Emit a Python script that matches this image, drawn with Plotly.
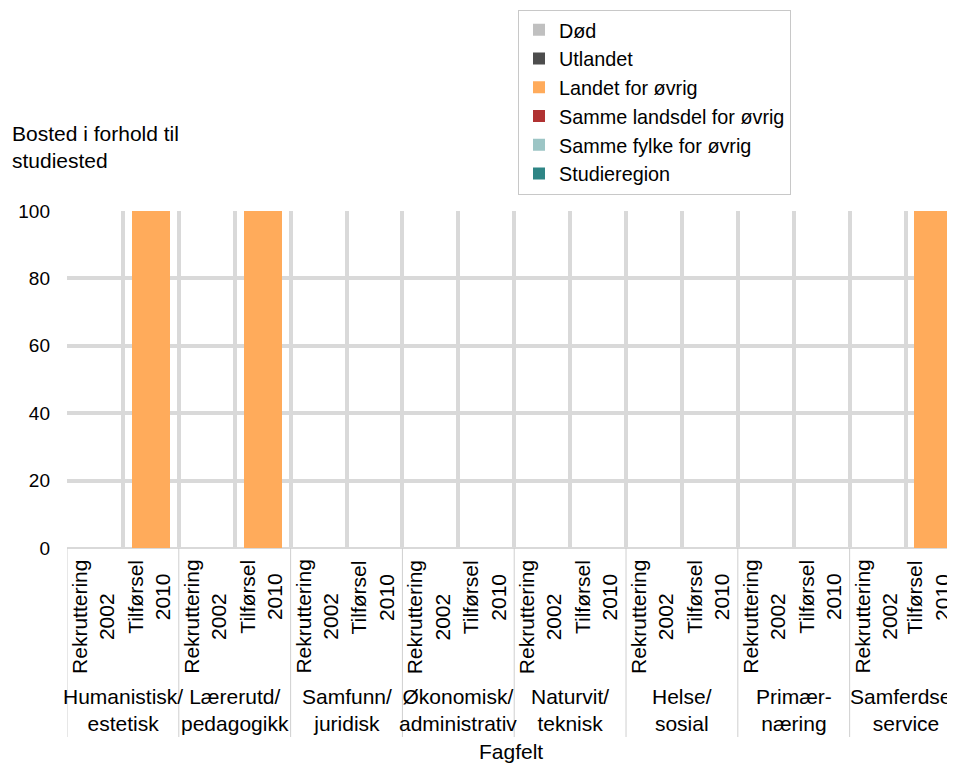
import plotly.graph_objects as go

groups = ["Humanistisk/<br>estetisk", "Lærerutd/<br>pedagogikk", "Samfunn/<br>juridisk",
          "Økonomisk/<br>administrativ", "Naturvit/<br>teknisk", "Helse/<br>sosial",
          "Primær-<br>næring", "Samferdsel/<br>service"]
subcats = ["Rekruttering<br>2002", "Tilførsel<br>2010"]

series_names = ["Studieregion", "Samme fylke for øvrig", "Samme landsdel for øvrig",
                "Landet for øvrig", "Utlandet", "Død"]
series_colors = ["#2e8585", "#9cc5c5", "#b03232", "#ffab5b", "#4d4d4d", "#c0c0c0"]

# values in order: for each group -> Rekruttering 2002, Tilførsel 2010
studieregion   = [0, 0, 0, 0, 0, 0, 0, 0, 0, 0, 0, 0, 0, 0, 0, 0]
samme_fylke    = [0, 0, 0, 0, 0, 0, 0, 0, 0, 0, 0, 0, 0, 0, 0, 0]
samme_landsdel = [0, 0, 0, 0, 0, 0, 0, 0, 0, 0, 0, 0, 0, 0, 0, 0]
landet         = [0, 100, 0, 100, 0, 0, 0, 0, 0, 0, 0, 0, 0, 0, 0, 100]
utlandet       = [0, 0, 0, 0, 0, 0, 0, 0, 0, 0, 0, 0, 0, 0, 0, 0]
dod            = [0, 0, 0, 0, 0, 0, 0, 0, 0, 0, 0, 0, 0, 0, 0, 0]

series_values = [studieregion, samme_fylke, samme_landsdel, landet, utlandet, dod]

y_ticks = [0, 20, 40, 60, 80, 100]

# unique category keys for each bar (group + sub-category)
x_keys = [f"{gi}|{si}" for gi in range(len(groups)) for si in range(len(subcats))]

FONT = "Liberation Sans, Arial, sans-serif"
PLOT_H = 337.0

fig = go.Figure()
for name, color, vals in zip(series_names, series_colors, series_values):
    fig.add_trace(go.Bar(x=x_keys, y=vals, name=name,
                         marker=dict(color=color, line=dict(width=0))))

annotations = []
# inner (rotated) category labels
last_key = x_keys[-1]
for gi in range(len(groups)):
    for si, sub in enumerate(subcats):
        key = f"{gi}|{si}"
        annotations.append(dict(
            text=sub, xref="x", yref="paper", x=key, y=-10 / PLOT_H,
            xanchor="center", yanchor="top", textangle=-90, align="center",
            xshift=-5 if key == last_key else -2, showarrow=False,
            font=dict(size=21)))
# outer group labels
for gi, g in enumerate(groups):
    annotations.append(dict(
        text=g, xref="x", yref="paper", x=gi * len(subcats) + (len(subcats) - 1) / 2,
        y=-162 / PLOT_H, xanchor="center", yanchor="middle", align="center",
        showarrow=False, font=dict(size=21)))

annotations += [
    dict(text="Bosted i forhold til<br>studiested", xref="paper", yref="paper",
         x=-57 / 888, y=1.19, xanchor="left", yanchor="middle", align="left",
         showarrow=False, font=dict(size=21)),
    dict(text="Fagfelt", xref="paper", yref="paper", x=0.5, y=-203 / PLOT_H,
         xanchor="center", yanchor="middle", showarrow=False, font=dict(size=21)),
]

# group dividers below the axis
shapes = []
for gi in range(len(groups) + 1):
    xb = gi * len(subcats) - 0.5
    shapes.append(dict(type="line", xref="x", yref="paper", x0=xb, x1=xb,
                       y0=0, y1=-189 / PLOT_H, line=dict(color="#cfcfcf", width=1)))

fig.update_layout(
    width=947, height=759,
    barmode="stack", bargap=0.32,
    plot_bgcolor="white", paper_bgcolor="white",
    margin=dict(l=59, r=0, t=203, b=219),
    font=dict(family=FONT, size=21, color="#000000"),
    legend=dict(x=(518 - 67) / 888, y=1 + 201.5 / PLOT_H, xanchor="left",
                yanchor="top", traceorder="reversed", bordercolor="#c8c8c8",
                borderwidth=1, font=dict(size=19.8)),
    xaxis=dict(type="category", range=[-0.5, 15.385], tickson="boundaries",
               showgrid=True, gridcolor="#d9d9d9", gridwidth=4,
               showticklabels=False, ticks="", showline=False),
    yaxis=dict(range=[0, 100], tickvals=y_ticks, showgrid=True, gridcolor="#d9d9d9",
               gridwidth=4, zeroline=True, zerolinecolor="#d9d9d9", zerolinewidth=2,
               ticks="", ticklabelstandoff=16, tickfont=dict(size=19)),
    annotations=annotations,
    shapes=shapes,
)

fig.write_html("out.html")
